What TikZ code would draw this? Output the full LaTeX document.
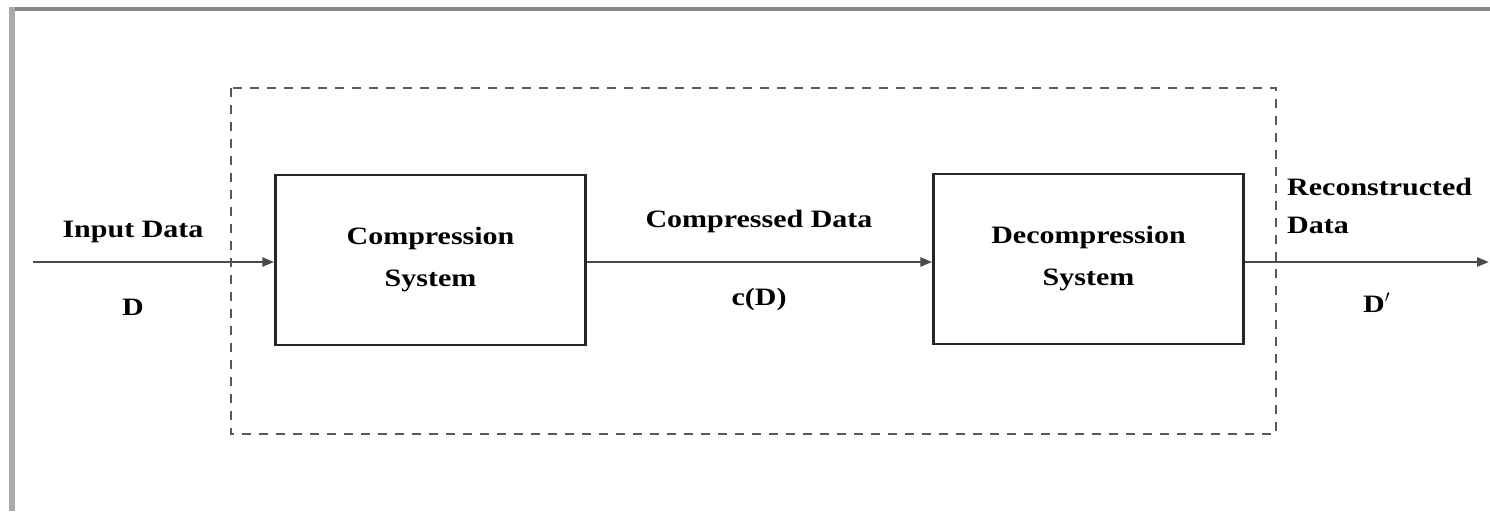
\documentclass[tikz,border=0pt]{standalone}
\usepackage{fontspec}
\setmainfont[FakeStretch=1.2]{Liberation Serif}
\usetikzlibrary{arrows.meta}
\definecolor{bordertop}{HTML}{888888}
\definecolor{borderleft}{HTML}{AAAAAA}
\definecolor{linegray}{HTML}{4A4A4A}
\begin{document}
\begin{tikzpicture}[x=1pt,y=-1pt,
  lbl/.style={font=\fontsize{25}{40}\selectfont\bfseries, inner sep=0pt},
  sysbox/.style={draw=black!85, line width=2.5pt, minimum width=310pt, minimum height=170pt,
    align=center, inner sep=0pt, font=\fontsize{25}{42}\selectfont\bfseries},
  flow/.style={draw=linegray, line width=2.5pt, -{Triangle[length=12pt,width=9pt]}},
  outerdash/.style={draw=black!65, line width=2pt, dash pattern=on 9pt off 8pt}]
\useasboundingbox (0,0) rectangle (1490,511);
% page frame
\draw[bordertop, line width=4.5pt] (9,9) -- (1490,9);
\draw[borderleft, line width=6pt] (12,7) -- (12,511);
% dashed system outline
\draw[outerdash] (231,88) rectangle (1276,434);
% blocks
\node[sysbox] (comp) at (430.5,260) {Compression\\System};
\node[sysbox] (decomp) at (1088.5,259) {Decompression\\System};
% free ends
\coordinate (in) at (33,262);
\coordinate (out) at (1489,262);
% connectors
\draw[flow] (in) -- (comp.west |- in);
\draw[flow] (comp.east |- in) -- (decomp.west |- in);
\draw[flow] (decomp.east |- in) -- (out);
% labels
\node[lbl, anchor=base] (inlbl) at (133,237) {Input Data};
\node[lbl, anchor=base] (insym) at (133,315) {D};
\node[lbl, anchor=base] (cdlbl) at (759,227) {Compressed Data};
\node[lbl, anchor=base] (cdsym) at (759,305) {c(D)};
\node[lbl, anchor=base west] (rclbl1) at (1287,195) {Reconstructed};
\node[lbl, anchor=base west] (rclbl2) at (1287,233) {Data};
\node[lbl, anchor=base west] (rcsym) at (1363,312) {D$'$};
\end{tikzpicture}
\end{document}
